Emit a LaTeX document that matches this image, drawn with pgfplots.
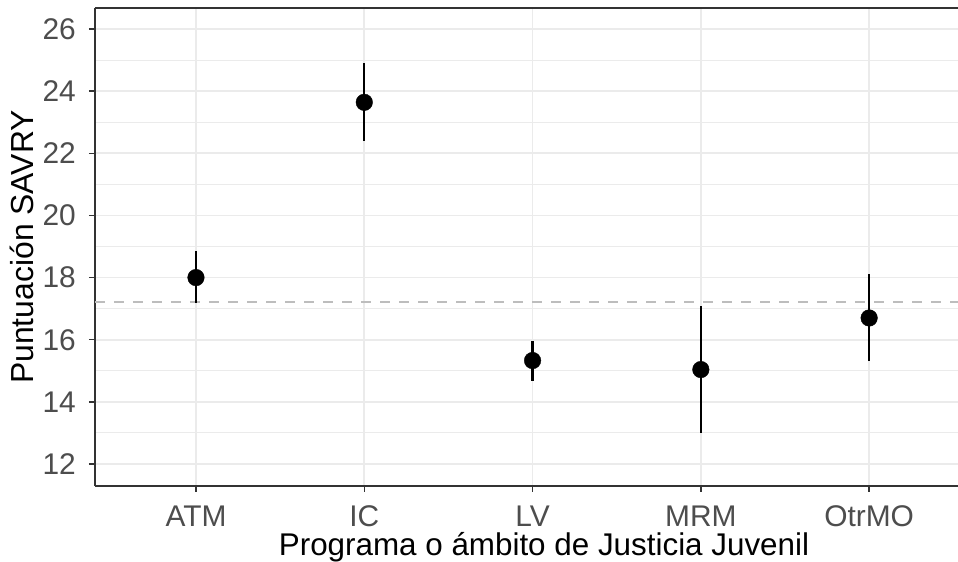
\documentclass[border=0pt]{standalone}
\usepackage{fontspec}
\setmainfont{Liberation Sans}
\usepackage{pgfplots}
\pgfplotsset{compat=1.18}
\usepackage{pgfplotstable}
\definecolor{gridc}{HTML}{EBEBEB}
\definecolor{framec}{HTML}{333333}
\definecolor{ticklab}{HTML}{4D4D4D}
\definecolor{refline}{HTML}{BDBDBD}
\pgfplotstableread{
x y ep em
1 18.00 0.84 0.82
2 23.64 1.28 1.26
3 15.33 0.64 0.65
4 15.04 2.03 2.04
5 16.70 1.43 1.40
}\datatable
\begin{document}
\begin{tikzpicture}
\begin{axis}[
  scale only axis, width=863bp, height=478bp,
  xmin=0.4, xmax=5.528, ymin=11.293, ymax=26.675,
  axis x line*=bottom, axis y line*=left,
  axis line style={-, framec, line width=1.5bp},
  xtick={1,2,3,4,5}, xticklabels={ATM,IC,LV,MRM,OtrMO},
  ytick={12,14,...,26},
  minor ytick={13,15,...,25},
  grid=both,
  major grid style={gridc, line width=1.8bp},
  minor grid style={gridc, line width=1.0bp},
  tick align=outside, major tick length=6bp, minor tick length=0pt,
  tick style={framec, line width=1.5bp},
  /pgf/number format/assume math mode=true,
  xticklabel style={font=\fontsize{30}{30}\selectfont, text=ticklab, anchor=base, inner sep=0pt, yshift=-34bp},
  yticklabel style={font=\fontsize{30}{30}\selectfont, text=ticklab, anchor=east, inner sep=0pt, xshift=-13bp},
  xlabel={Programa o ámbito de Justicia Juvenil},
  xlabel style={at={(axis description cs:0.5203,0)}, anchor=base, inner sep=0pt, yshift=-69bp, font=\fontsize{31.5}{31.5}\selectfont},
  ylabel={Puntuación SAVRY},
  ylabel style={at={(axis description cs:-0.07184,0.5)}, anchor=base, inner sep=0pt, font=\fontsize{32}{32}\selectfont},
]
\addplot[refline, line width=1.5bp, dash pattern=on 10bp off 9bp, forget plot] coordinates {(0.4,17.21) (5.528,17.21)};
\addplot[only marks, mark=*, mark size=8.3bp, black,
  error bars/.cd, y dir=both, y explicit,
  error bar style={line width=2.4bp, black}, error mark=none]
  table[x=x, y=y, y error plus=ep, y error minus=em] {\datatable};
\draw[framec, line width=1.5bp] (rel axis cs:0,1) -- (rel axis cs:1,1);
\end{axis}
\pgfresetboundingbox
\useasboundingbox ([shift={(-95bp,-76bp)}]current axis.south west) rectangle ([shift={(0bp,8bp)}]current axis.north east);
\end{tikzpicture}
\end{document}
